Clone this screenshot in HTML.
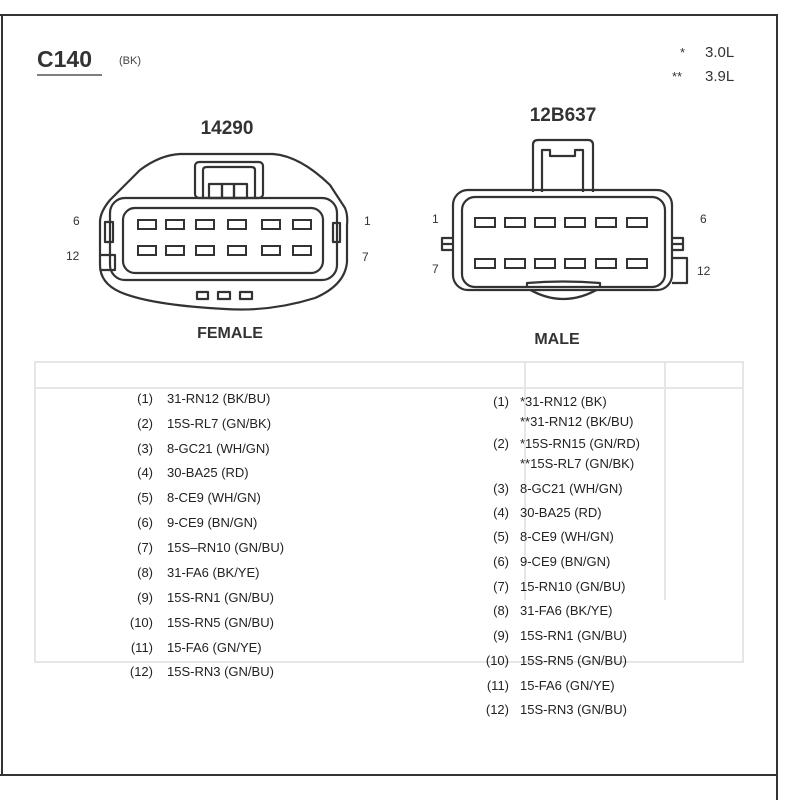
<!DOCTYPE html>
<html><head><meta charset="utf-8"><style>
html,body{margin:0;padding:0;background:#fff;}
body{width:785px;height:800px;overflow:hidden;position:relative;}
svg{position:absolute;left:0;top:0;}
</style></head><body>
<svg width="785" height="800" viewBox="0 0 785 800" font-family="Liberation Sans, Arial, sans-serif">
<!-- faint bleed-through -->
<g stroke="#e6e6e6" stroke-width="2" fill="none">
<rect x="35" y="362" width="708" height="300"/>
<line x1="35" y1="388" x2="743" y2="388"/>
<line x1="525" y1="362" x2="525" y2="600"/>
<line x1="665" y1="362" x2="665" y2="600"/>
</g>
<!-- page border -->
<g stroke="#333" stroke-width="2" fill="none">
<line x1="0" y1="15" x2="778" y2="15"/>
<line x1="777" y1="15" x2="777" y2="800"/>
<line x1="2" y1="15" x2="2" y2="775"/>
<line x1="0" y1="775" x2="777" y2="775"/>
</g>
<!-- headers -->
<text x="37" y="67" font-size="23" font-weight="bold" fill="#333">C140</text>
<line x1="37" y1="75" x2="102" y2="75" stroke="#555" stroke-width="1.5"/>
<text x="119" y="64" font-size="11" fill="#444">(BK)</text>
<text x="680" y="57" font-size="13" fill="#333">*</text>
<text x="705" y="57" font-size="15" fill="#333">3.0L</text>
<text x="672" y="81" font-size="13" fill="#333">**</text>
<text x="705" y="81" font-size="15" fill="#333">3.9L</text>
<text x="227" y="134" font-size="19" font-weight="bold" fill="#333" text-anchor="middle">14290</text>
<text x="563" y="121" font-size="19" font-weight="bold" fill="#333" text-anchor="middle">12B637</text>
<text x="230" y="338" font-size="16" font-weight="bold" fill="#333" text-anchor="middle">FEMALE</text>
<text x="557" y="344" font-size="16" font-weight="bold" fill="#333" text-anchor="middle">MALE</text>

<!-- female connector -->
<g stroke="#333" stroke-width="2.2" fill="none" stroke-linejoin="round">
<path d="M180,154 L273,154 Q300,156 330,185 L345,208 Q348,215 347,225 L347,262 Q345,285 315,298 Q270,312 225,309 Q150,305 120,292 Q100,283 100,265 L100,222 Q100,212 110,200 L140,170 Q160,155 180,154 Z"/>
<rect x="110" y="198" width="227" height="82" rx="15"/>
<rect x="123" y="208" width="200" height="65" rx="12"/>
<rect x="195" y="162" width="68" height="36" rx="4"/>
<path d="M203,198 L203,170 Q203,167 207,167 L251,167 Q255,167 255,170 L255,198"/>
<rect x="209" y="184" width="13" height="14"/>
<rect x="222" y="184" width="12" height="14"/>
<rect x="234" y="184" width="13" height="14"/>
<rect x="105" y="222" width="8" height="20"/>
<rect x="333" y="223" width="7" height="19"/>
<path d="M100,255 L115,255 L115,270 L100,270"/>
<rect x="197" y="292" width="11" height="7"/>
<rect x="218" y="292" width="12" height="7"/>
<rect x="240" y="292" width="12" height="7"/>
</g>
<g stroke="#333" stroke-width="2" fill="none">
<rect x="138" y="220" width="18" height="9"/><rect x="166" y="220" width="18" height="9"/><rect x="196" y="220" width="18" height="9"/><rect x="228" y="220" width="18" height="9"/><rect x="262" y="220" width="18" height="9"/><rect x="293" y="220" width="18" height="9"/>
<rect x="138" y="246" width="18" height="9"/><rect x="166" y="246" width="18" height="9"/><rect x="196" y="246" width="18" height="9"/><rect x="228" y="246" width="18" height="9"/><rect x="262" y="246" width="18" height="9"/><rect x="293" y="246" width="18" height="9"/>
</g>
<text x="73" y="225" font-size="12" fill="#333">6</text>
<text x="66" y="260" font-size="12" fill="#333">12</text>
<text x="364" y="225" font-size="12" fill="#333">1</text>
<text x="362" y="261" font-size="12" fill="#333">7</text>

<!-- male connector -->
<g stroke="#333" stroke-width="2.2" fill="none" stroke-linejoin="round">
<path d="M527,288 Q563,310 600,288"/>
<rect x="453" y="190" width="219" height="100" rx="15" fill="#fff"/>
<rect x="462" y="197" width="203" height="90" rx="13"/>
<path d="M527,287 L527,283 Q563,280 600,283 L600,287"/>
<path d="M533,192 L533,145 Q533,140 538,140 L588,140 Q593,140 593,145 L593,192"/>
<path d="M542,192 L542,150 L550,150 L550,156 L575,156 L575,150 L583,150 L583,192"/>
<path d="M453,238 L442,238 L442,250 L453,250 M442,244 L453,244"/>
<path d="M672,238 L683,238 L683,250 L672,250 M683,244 L672,244"/>
<path d="M672,258 L687,258 L687,283 L672,283"/>
</g>
<g stroke="#333" stroke-width="2" fill="none">
<rect x="475" y="218" width="20" height="9"/><rect x="505" y="218" width="20" height="9"/><rect x="535" y="218" width="20" height="9"/><rect x="565" y="218" width="20" height="9"/><rect x="596" y="218" width="20" height="9"/><rect x="627" y="218" width="20" height="9"/>
<rect x="475" y="259" width="20" height="9"/><rect x="505" y="259" width="20" height="9"/><rect x="535" y="259" width="20" height="9"/><rect x="565" y="259" width="20" height="9"/><rect x="596" y="259" width="20" height="9"/><rect x="627" y="259" width="20" height="9"/>
</g>
<text x="432" y="223" font-size="12" fill="#333">1</text>
<text x="432" y="273" font-size="12" fill="#333">7</text>
<text x="700" y="223" font-size="12" fill="#333">6</text>
<text x="697" y="275" font-size="12" fill="#333">12</text>

<!-- female list -->
<g font-size="13" fill="#222">
<g text-anchor="end">
<text x="153" y="403">(1)</text><text x="153" y="428">(2)</text><text x="153" y="453">(3)</text><text x="153" y="477">(4)</text><text x="153" y="502">(5)</text><text x="153" y="527">(6)</text><text x="153" y="552">(7)</text><text x="153" y="577">(8)</text><text x="153" y="602">(9)</text><text x="153" y="627">(10)</text><text x="153" y="652">(11)</text><text x="153" y="676">(12)</text>
</g>
<text x="167" y="403">31-RN12 (BK/BU)</text>
<text x="167" y="428">15S-RL7 (GN/BK)</text>
<text x="167" y="453">8-GC21 (WH/GN)</text>
<text x="167" y="477">30-BA25 (RD)</text>
<text x="167" y="502">8-CE9 (WH/GN)</text>
<text x="167" y="527">9-CE9 (BN/GN)</text>
<text x="167" y="552">15S–RN10 (GN/BU)</text>
<text x="167" y="577">31-FA6 (BK/YE)</text>
<text x="167" y="602">15S-RN1 (GN/BU)</text>
<text x="167" y="627">15S-RN5 (GN/BU)</text>
<text x="167" y="652">15-FA6 (GN/YE)</text>
<text x="167" y="676">15S-RN3 (GN/BU)</text>
</g>
<!-- male list -->
<g font-size="13" fill="#222">
<g text-anchor="end">
<text x="509" y="406">(1)</text><text x="509" y="448">(2)</text><text x="509" y="493">(3)</text><text x="509" y="517">(4)</text><text x="509" y="541">(5)</text><text x="509" y="566">(6)</text><text x="509" y="591">(7)</text><text x="509" y="615">(8)</text><text x="509" y="640">(9)</text><text x="509" y="665">(10)</text><text x="509" y="690">(11)</text><text x="509" y="714">(12)</text>
</g>
<text x="520" y="406">*31-RN12 (BK)</text>
<text x="520" y="426">**31-RN12 (BK/BU)</text>
<text x="520" y="448">*15S-RN15 (GN/RD)</text>
<text x="520" y="468">**15S-RL7 (GN/BK)</text>
<text x="520" y="493">8-GC21 (WH/GN)</text>
<text x="520" y="517">30-BA25 (RD)</text>
<text x="520" y="541">8-CE9 (WH/GN)</text>
<text x="520" y="566">9-CE9 (BN/GN)</text>
<text x="520" y="591">15-RN10 (GN/BU)</text>
<text x="520" y="615">31-FA6 (BK/YE)</text>
<text x="520" y="640">15S-RN1 (GN/BU)</text>
<text x="520" y="665">15S-RN5 (GN/BU)</text>
<text x="520" y="690">15-FA6 (GN/YE)</text>
<text x="520" y="714">15S-RN3 (GN/BU)</text>
</g>
</svg>
</body></html>
